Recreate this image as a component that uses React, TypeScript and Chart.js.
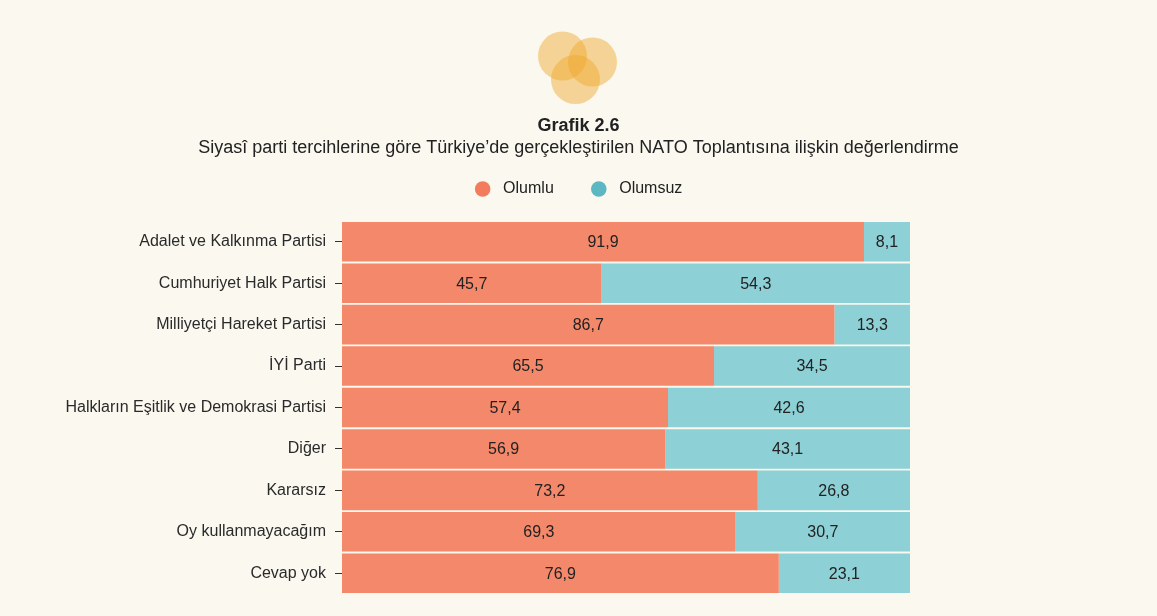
import React, { useEffect, useRef } from "react";
import { Chart, registerables } from "chart.js";

Chart.register(...registerables);

const categories = [
  "Adalet ve Kalkınma Partisi",
  "Cumhuriyet Halk Partisi",
  "Milliyetçi Hareket Partisi",
  "İYİ Parti",
  "Halkların Eşitlik ve Demokrasi Partisi",
  "Diğer",
  "Kararsız",
  "Oy kullanmayacağım",
  "Cevap yok",
];

const olumlu = [91.9, 45.7, 86.7, 65.5, 57.4, 56.9, 73.2, 69.3, 76.9];
const olumsuz = [8.1, 54.3, 13.3, 34.5, 42.6, 43.1, 26.8, 30.7, 23.1];

const seriesNames = ["Olumlu", "Olumsuz"];
const titleText = "Grafik 2.6";
const subtitleText =
  "Siyasî parti tercihlerine göre Türkiye’de gerçekleştirilen NATO Toplantısına ilişkin değerlendirme";

const BG = "#faf8ef";
const FONT = "'Liberation Sans', Arial, Helvetica, sans-serif";

const logoPlugin = {
  id: "logo",
  beforeDraw(chart: any) {
    const ctx = chart.ctx;
    ctx.save();
    ctx.fillStyle = BG;
    ctx.fillRect(0, 0, chart.width, chart.height);
    const circles = [
      [562.5, 56, 24.5],
      [592.5, 62, 24.5],
      [575.5, 79.5, 24.5],
    ];
    ctx.fillStyle = "rgba(239,166,42,0.45)";
    for (const [x, y, r] of circles) {
      ctx.beginPath();
      ctx.arc(x, y, r, 0, Math.PI * 2);
      ctx.fill();
    }
    ctx.restore();
  },
};

const valueLabelPlugin = {
  id: "valueLabels",
  afterDatasetsDraw(chart: any) {
    const ctx = chart.ctx;
    ctx.save();
    ctx.font = `16px ${FONT}`;
    ctx.fillStyle = "#222222";
    ctx.textAlign = "center";
    ctx.textBaseline = "middle";
    chart.data.datasets.forEach((ds: any, di: number) => {
      const meta = chart.getDatasetMeta(di);
      meta.data.forEach((bar: any, i: number) => {
        const v = ds.data[i];
        const { x, y, base } = bar.getProps(["x", "y", "base"], true);
        const cx = (x + base) / 2;
        ctx.fillText(v.toFixed(1).replace(".", ","), cx, y + 1);
      });
    });
    ctx.restore();
  },
};

export default function App() {
  const ref = useRef<HTMLCanvasElement | null>(null);

  useEffect(() => {
    document.body.style.margin = "0";
    document.body.style.background = BG;
    if (!ref.current) return;
    const chart = new Chart(ref.current, {
      type: "bar",
      data: {
        labels: categories,
        datasets: [
          {
            label: seriesNames[0],
            data: olumlu,
            backgroundColor: "#f4886a",
            borderWidth: 0,
            barPercentage: 0.955,
            categoryPercentage: 1,
          },
          {
            label: seriesNames[1],
            data: olumsuz,
            backgroundColor: "#8dd0d6",
            borderWidth: 0,
            barPercentage: 0.955,
            categoryPercentage: 1,
          },
        ],
      },
      options: {
        indexAxis: "y",
        animation: false,
        responsive: false,
        layout: { padding: { top: 0, left: 0, right: 0, bottom: 22 } },
        scales: {
          x: {
            stacked: true,
            min: 0,
            max: 100,
            position: "top",
            display: true,
            ticks: { display: false },
            grid: { display: false },
            border: { display: false },
            afterFit: (axis: any) => {
              axis.height = 14;
            },
          },
          y: {
            stacked: true,
            ticks: {
              color: "#2a2a2a",
              font: { family: FONT, size: 16 },
              padding: 9,
            },
            grid: {
              display: true,
              drawOnChartArea: false,
              drawTicks: true,
              tickLength: 7,
              color: "#333333",
              offset: false,
            },
            border: { display: false },
            afterFit: (axis: any) => {
              axis.width = 342;
            },
          },
          yRight: {
            type: "linear",
            position: "right",
            display: true,
            ticks: { display: false },
            grid: { display: false },
            border: { display: false },
            afterFit: (axis: any) => {
              axis.width = 247;
            },
          },
        },
        plugins: {
          title: {
            display: true,
            text: titleText,
            color: "#222222",
            font: { family: FONT, size: 18, weight: "bold" },
            padding: { top: 115.2, bottom: 0 },
          },
          subtitle: {
            display: true,
            text: subtitleText,
            color: "#222222",
            font: { family: FONT, size: 18 },
            padding: { top: 0, bottom: -14.4 },
          },
          legend: {
            display: true,
            position: "top",
            labels: {
              usePointStyle: true,
              pointStyle: "circle",
              boxHeight: 11,
              color: "#222222",
              font: { family: FONT, size: 16 },
              padding: 37,
              generateLabels: (chart: any) =>
                chart.data.datasets.map((ds: any, i: number) => ({
                  text: " " + ds.label,
                  fillStyle: i === 0 ? "#f47c5e" : "#5bb8c2",
                  strokeStyle: i === 0 ? "#f47c5e" : "#5bb8c2",
                  lineWidth: 0,
                  pointStyle: "circle",
                  datasetIndex: i,
                  hidden: false,
                  fontColor: "#222222",
                })),
            },
          },
          tooltip: { enabled: false },
        },
      },
      plugins: [logoPlugin, valueLabelPlugin],
    });
    return () => chart.destroy();
  }, []);

  return (
    <div style={{ width: 1157, height: 616, background: BG }}>
      <canvas ref={ref} width={1157} height={616} />
    </div>
  );
}
